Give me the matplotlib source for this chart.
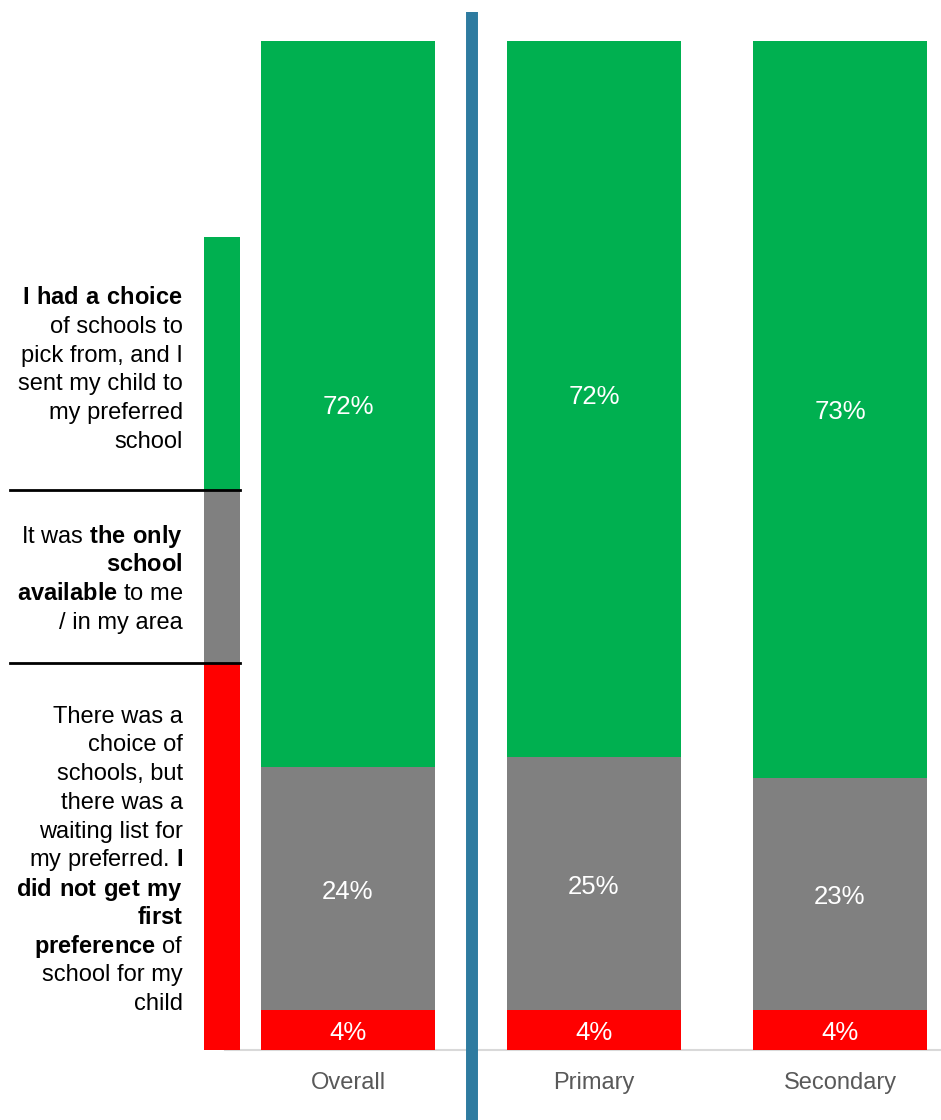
import matplotlib
matplotlib.use("Agg")
import matplotlib.pyplot as plt

plt.rcParams['font.family'] = ['Liberation Sans', 'DejaVu Sans']
plt.rcParams['mathtext.fontset'] = 'custom'
plt.rcParams['mathtext.rm'] = 'Liberation Sans'
plt.rcParams['mathtext.bf'] = 'Liberation Sans:bold'

categories = ["Overall", "Primary", "Secondary"]
no_first_pref = [4, 4, 4]
only_school = [24, 25, 23]
had_choice = [72, 72, 73]

# legend strip on the left (red / grey / green), in % of the axis
legend_parts = [38.4, 17.1, 25.1]

green = '#00B050'
grey = '#808080'
red = '#FF0000'

fig = plt.figure(figsize=(9.41, 11.2), dpi=100)
ax = fig.add_axes([0, 0.0625, 1, 0.9009])
ax.set_xlim(-1.4146, 2.4106)
ax.set_ylim(0, 100)
for s in ax.spines.values():
    s.set_visible(False)
ax.set_yticks([])

x = list(range(len(categories)))
w = 0.707
ax.bar(x, no_first_pref, w, color=red)
ax.bar(x, only_school, w, bottom=no_first_pref, color=grey)
bottom2 = [a + b for a, b in zip(no_first_pref, only_school)]
ax.bar(x, had_choice, w, bottom=bottom2, color=green)

off = -0.3
for i in x:
    ax.text(i, no_first_pref[i] / 2 + off, f"{no_first_pref[i]}%", ha='center', va='center', color='white', fontsize=18.5)
    ax.text(i, no_first_pref[i] + only_school[i] / 2 + off, f"{only_school[i]}%", ha='center', va='center', color='white', fontsize=18.5)
    ax.text(i, bottom2[i] + had_choice[i] / 2 + off, f"{had_choice[i]}%", ha='center', va='center', color='white', fontsize=18.5)

ax.set_xticks(x)
ax.set_xticklabels(categories, fontsize=17, color='#595959')
ax.tick_params(axis='x', length=0, pad=16)

# baseline
ax.plot([-0.5, 2.41], [0, 0], color='#D9D9D9', lw=1.5, clip_on=False, zorder=0)

# divider between overall and the breakdown
ax.plot([0.504, 0.504], [-7, 102.9], color='#2E7BA0', lw=8.6, clip_on=False, solid_capstyle='butt')

# legend strip
lx = -0.512
lw_ = 0.146
lb = 0
for val, col in zip(legend_parts, [red, grey, green]):
    ax.bar(lx, val, lw_, bottom=lb, color=col)
    lb += val
sep1 = legend_parts[0]
sep2 = legend_parts[0] + legend_parts[1]
ax.plot([-1.374, -0.439], [sep1, sep1], color='black', lw=2)
ax.plot([-1.374, -0.439], [sep2, sep2], color='black', lw=2)

green_lines = [r"$\mathbf{I\ had\ a\ choice}$", "of schools to", "pick from, and I",
               "sent my child to", "my preferred", "school"]
grey_lines = [r"It was $\mathbf{the\ only}$", r"$\mathbf{school}$",
              r"$\mathbf{available}$ to me", "/ in my area"]
red_lines = ["There was a", "choice of", "schools, but", "there was a",
             "waiting list for", r"my preferred. $\mathbf{I}$",
             r"$\mathbf{did\ not\ get\ my}$", r"$\mathbf{first}$",
             r"$\mathbf{preference}$ of", "school for my", "child"]

step = 2.85
tx = -0.671
for lines, center in [(green_lines, 67.4), (grey_lines, 46.6), (red_lines, 18.8)]:
    n = len(lines)
    top = center + step * (n - 1) / 2
    for k, line in enumerate(lines):
        ax.text(tx, top - k * step, line, ha='right', va='center', fontsize=17, color='black')

fig.savefig("out.png", dpi=100)
